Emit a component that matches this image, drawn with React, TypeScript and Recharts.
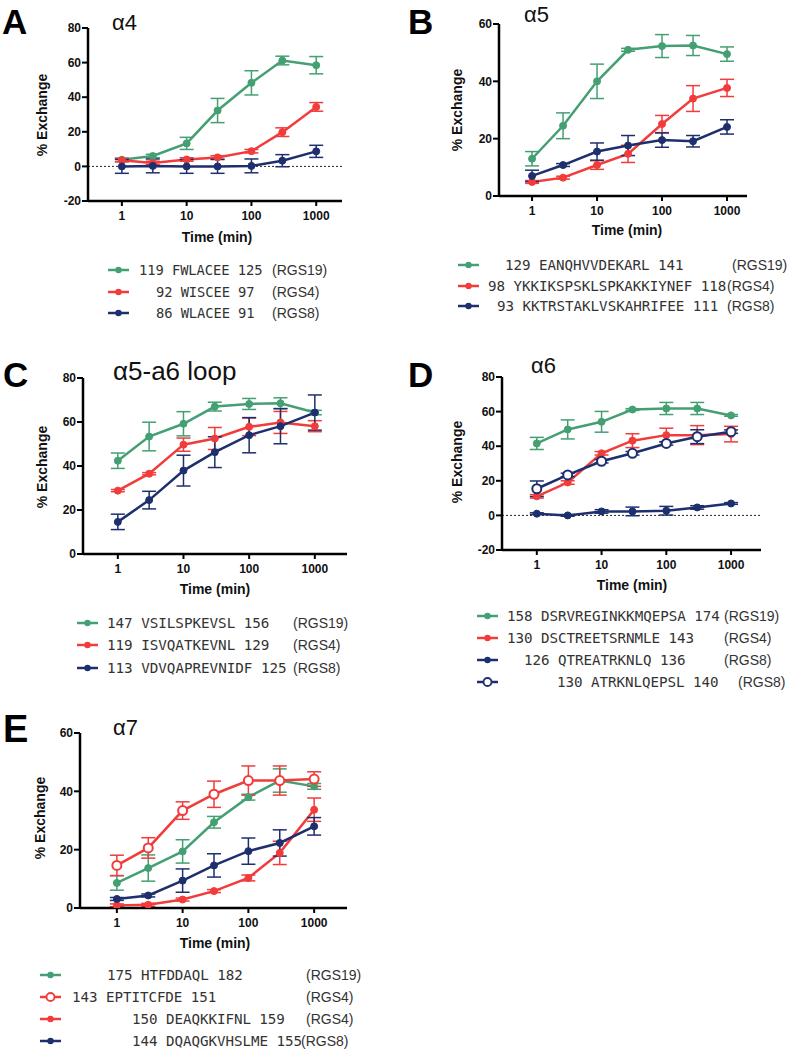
import React from 'react';
import { LineChart, Line, XAxis, YAxis, ErrorBar, ReferenceLine } from 'recharts';

const TIMES = [1, 3, 10, 30, 100, 300, 1000];
const X_TICKS = [1, 10, 100, 1000];

// Panel A – α4
const A_RGS19 = [3.8, 6, 13.3, 32.3, 48.3, 61.2, 58.5];
const A_RGS19_ERR = [1, 1, 3.5, 7, 7, 2.5, 5];
const A_RGS4 = [3.6, 2, 4, 5.2, 8.8, 19.8, 34.4];
const A_RGS4_ERR = [1, 1, 1, 1, 1, 2.5, 2.5];
const A_RGS8 = [0, 0.3, 0, 0, 0.3, 3.3, 8.7];
const A_RGS8_ERR = [4, 4, 4, 4, 4, 3.5, 3.5];

// Panel B – α5
const B_RGS19 = [13, 24.5, 40, 51, 52.3, 52.5, 49.5];
const B_RGS19_ERR = [2.5, 4.5, 6, 0.5, 4, 3.5, 2.5];
const B_RGS4 = [4.9, 6.4, 10.8, 14.7, 25.1, 34, 37.7];
const B_RGS4_ERR = [0.5, 0.5, 1.5, 3, 3, 4.5, 3];
const B_RGS8 = [7, 10.8, 15.5, 17.6, 19.5, 19.1, 24.1];
const B_RGS8_ERR = [2, 0.5, 3, 3.5, 2.5, 2, 2.5];

// Panel C – α5-a6 loop
const C_RGS19 = [42.4, 53.4, 59.2, 67, 68.2, 68.5, 64.3];
const C_RGS19_ERR = [3.5, 6.5, 5.5, 2, 2.5, 2.5, 1];
const C_RGS4 = [28.8, 36.5, 49.7, 52.5, 57.8, 59.8, 58.1];
const C_RGS4_ERR = [0.5, 0.5, 3, 5, 4, 5, 2.5];
const C_RGS8 = [14.6, 24.5, 37.9, 46.3, 54, 58.1, 64.3];
const C_RGS8_ERR = [3.5, 4, 7, 7, 8, 8, 8];

// Panel D – α6
const D_RGS19 = [41.6, 49.7, 54.1, 61.2, 61.8, 61.8, 57.8];
const D_RGS19_ERR = [3.5, 5.5, 6, 0.5, 3.5, 3.5, 0.5];
const D_RGS4 = [11, 19, 35.9, 43.2, 46.4, 46.4, 47];
const D_RGS4_ERR = [1, 1, 1, 4, 4, 5.5, 4.5];
const D_RGS8A = [1, 0, 2.3, 2.3, 2.7, 4.6, 6.9];
const D_RGS8A_ERR = [0.5, 0.5, 1, 2.5, 2.5, 1, 0.5];
const D_RGS8B = [15.4, 23.4, 31.3, 35.9, 41.6, 45.5, 48.4];
const D_RGS8B_ERR = [4.5, 1, 1, 1, 1, 4, 1];

// Panel E – α7
const E_RGS19 = [8.6, 13.7, 19.4, 29.4, 38, 43.7, 41.7];
const E_RGS19_ERR = [2.5, 4.5, 4, 2, 1, 4, 1];
const E_RGS4A = [14.6, 20.6, 33.4, 39, 43.7, 43.7, 44.2];
const E_RGS4A_ERR = [3.5, 3.5, 3, 4.5, 5, 5, 2.5];
const E_RGS4B = [0.9, 1.1, 2.9, 5.8, 10.3, 18.9, 33.7];
const E_RGS4B_ERR = [0.5, 0.5, 0.5, 0.5, 1, 4, 4];
const E_RGS8 = [3.1, 4.3, 9.4, 14.6, 19.5, 22.3, 28];
const E_RGS8_ERR = [0.5, 0.5, 4, 4, 4.5, 4.5, 3];

// Legend labels
const A_LABELS = ['119 FWLACEE 125', '92 WISCEE 97', '86 WLACEE 91'];
const B_LABELS = ['129 EANQHVVDEKARL 141', '98 YKKIKSPSKLSPKAKKIYNEF 118', '93 KKTRSTAKLVSKAHRIFEE 111'];
const C_LABELS = ['147 VSILSPKEVSL 156', '119 ISVQATKEVNL 129', '113 VDVQAPREVNIDF 125'];
const D_LABELS = ['158 DSRVREGINKKMQEPSA 174', '130 DSCTREETSRNMLE 143', '126 QTREATRKNLQ 136', '130 ATRKNLQEPSL 140'];
const E_LABELS = ['175 HTFDDAQL 182', '143 EPTITCFDE 151', '150 DEAQKKIFNL 159', '144 DQAQGKVHSLME 155'];
const A_TAGS = ['(RGS19)', '(RGS4)', '(RGS8)'];
const B_TAGS = ['(RGS19)', '(RGS4)', '(RGS8)'];
const C_TAGS = ['(RGS19)', '(RGS4)', '(RGS8)'];
const D_TAGS = ['(RGS19)', '(RGS4)', '(RGS8)', '(RGS8)'];
const E_TAGS = ['(RGS19)', '(RGS4)', '(RGS4)', '(RGS8)'];

const GREEN = '#44A073';
const RED = '#F23B3B';
const NAVY = '#1E2F6E';
const SANS = '"Liberation Sans", Arial, sans-serif';
const MONO = '"DejaVu Sans Mono", monospace';

type Series = { values: number[]; errs: number[]; color: string; open?: boolean };

type PanelCfg = {
  left: number; right: number; top: number; bottom: number;
  xDomain: [number, number]; yDomain: [number, number]; yTicks: number[];
  zeroLine?: boolean; series: Series[];
};

const PANELS: PanelCfg[] = [
  {
    left: 88, right: 342, top: 28, bottom: 201, xDomain: [0.3, 2500], yDomain: [-20, 80],
    yTicks: [-20, 0, 20, 40, 60, 80], zeroLine: true,
    series: [
      { values: A_RGS19, errs: A_RGS19_ERR, color: GREEN },
      { values: A_RGS4, errs: A_RGS4_ERR, color: RED },
      { values: A_RGS8, errs: A_RGS8_ERR, color: NAVY },
    ],
  },
  {
    left: 499, right: 747, top: 24, bottom: 196, xDomain: [0.31, 2030], yDomain: [0, 60],
    yTicks: [0, 20, 40, 60],
    series: [
      { values: B_RGS19, errs: B_RGS19_ERR, color: GREEN },
      { values: B_RGS4, errs: B_RGS4_ERR, color: RED },
      { values: B_RGS8, errs: B_RGS8_ERR, color: NAVY },
    ],
  },
  {
    left: 83, right: 347, top: 378, bottom: 554, xDomain: [0.295, 3090], yDomain: [0, 80],
    yTicks: [0, 20, 40, 60, 80],
    series: [
      { values: C_RGS19, errs: C_RGS19_ERR, color: GREEN },
      { values: C_RGS4, errs: C_RGS4_ERR, color: RED },
      { values: C_RGS8, errs: C_RGS8_ERR, color: NAVY },
    ],
  },
  {
    left: 502, right: 761, top: 377, bottom: 550, xDomain: [0.29, 2900], yDomain: [-20, 80],
    yTicks: [-20, 0, 20, 40, 60, 80], zeroLine: true,
    series: [
      { values: D_RGS19, errs: D_RGS19_ERR, color: GREEN },
      { values: D_RGS4, errs: D_RGS4_ERR, color: RED },
      { values: D_RGS8A, errs: D_RGS8A_ERR, color: NAVY },
      { values: D_RGS8B, errs: D_RGS8B_ERR, color: NAVY, open: true },
    ],
  },
  {
    left: 80, right: 347, top: 733, bottom: 908, xDomain: [0.275, 3160], yDomain: [0, 60],
    yTicks: [0, 20, 40, 60],
    series: [
      { values: E_RGS19, errs: E_RGS19_ERR, color: GREEN },
      { values: E_RGS4A, errs: E_RGS4A_ERR, color: RED, open: true },
      { values: E_RGS4B, errs: E_RGS4B_ERR, color: RED },
      { values: E_RGS8, errs: E_RGS8_ERR, color: NAVY },
    ],
  },
];

const PAD_L = 60; // margin.left 30 + yAxis width 30
const PAD_T = 10;
const PAD_R = 10;
const PAD_B = 50; // margin.bottom 20 + xAxis height 30

function Panel({ cfg }: { cfg: PanelCfg }) {
  const w = cfg.right - cfg.left + PAD_L + PAD_R;
  const h = cfg.bottom - cfg.top + PAD_T + PAD_B;
  const data = TIMES.map((t, i) => {
    const row: Record<string, number> = { x: t };
    cfg.series.forEach((s, k) => {
      row['s' + k] = s.values[i];
      row['e' + k] = s.errs[i];
    });
    return row;
  });
  const tickStyle = { fontSize: 12, fontWeight: 700, fill: '#111', fontFamily: SANS };
  return (
    <div style={{ position: 'absolute', left: cfg.left - PAD_L, top: cfg.top - PAD_T, width: w, height: h }}>
      <LineChart width={w} height={h} data={data} margin={{ top: PAD_T, right: PAD_R, left: 30, bottom: 20 }}>
        <XAxis
          dataKey="x" type="number" scale="log" domain={cfg.xDomain} ticks={X_TICKS} interval={0}
          allowDataOverflow height={30} tick={tickStyle} tickSize={5} tickMargin={5}
          axisLine={{ stroke: '#000', strokeWidth: 2.5 }} tickLine={{ stroke: '#000', strokeWidth: 2 }}
        />
        <YAxis
          type="number" domain={cfg.yDomain} ticks={cfg.yTicks} interval={0} width={30}
          allowDataOverflow tick={tickStyle} tickSize={6} tickMargin={1}
          axisLine={{ stroke: '#000', strokeWidth: 2.5 }} tickLine={{ stroke: '#000', strokeWidth: 2 }}
        />
        {cfg.zeroLine && (
          <ReferenceLine y={0} stroke="#222" strokeWidth={1} strokeDasharray="2 2" />
        )}
        {cfg.series.map((s, k) => (
          <Line
            key={k}
            dataKey={'s' + k}
            stroke={s.color}
            strokeWidth={2.5}
            isAnimationActive={false}
            dot={s.open
              ? { r: 4.5, fill: '#fff', stroke: s.color, strokeWidth: 2 }
              : { r: 3.5, fill: s.color, stroke: s.color, strokeWidth: 1 }}
            activeDot={false}
          >
            <ErrorBar dataKey={'e' + k} direction="y" width={7} stroke={s.color} strokeWidth={1.5} isAnimationActive={false} />
          </Line>
        ))}
      </LineChart>
    </div>
  );
}

type Legend = { labels: string[]; tags: string[]; colors: string[]; open: boolean[]; markX: number; seqX: number[]; tagX: number[]; ys: number[]; cw: number };

const LEGENDS: Legend[] = [
  { labels: A_LABELS, tags: A_TAGS, colors: [GREEN, RED, NAVY], open: [false, false, false], markX: 108, seqX: [139, 156, 156], tagX: [272, 272, 272], ys: [270, 292, 313], cw: 8.3 },
  { labels: B_LABELS, tags: B_TAGS, colors: [GREEN, RED, NAVY], open: [false, false, false], markX: 458, seqX: [505, 488, 497], tagX: [732, 727, 727], ys: [265, 286, 306], cw: 8.55 },
  { labels: C_LABELS, tags: C_TAGS, colors: [GREEN, RED, NAVY], open: [false, false, false], markX: 77, seqX: [107, 107, 107], tagX: [293, 293, 293], ys: [623, 645, 668], cw: 8.6 },
  { labels: D_LABELS, tags: D_TAGS, colors: [GREEN, RED, NAVY, NAVY], open: [false, false, false, true], markX: 477, seqX: [507, 507, 524, 557], tagX: [724, 724, 724, 738], ys: [616, 638, 660, 682], cw: 8.55 },
  { labels: E_LABELS, tags: E_TAGS, colors: [GREEN, RED, RED, NAVY], open: [false, true, false, false], markX: 40, seqX: [107, 72, 132, 132], tagX: [306, 306, 306, 301], ys: [975, 997, 1019, 1041], cw: 8.55 },
];

const LETTERS = [
  { t: 'A', x: 2, y: 34, s: 35 },
  { t: 'B', x: 408, y: 34, s: 35 },
  { t: 'C', x: 3, y: 387, s: 35 },
  { t: 'D', x: 408, y: 387, s: 35 },
  { t: 'E', x: 3, y: 742, s: 38 },
];
const TITLES = [
  { t: 'α4', x: 112, y: 30, s: 22 },
  { t: 'α5', x: 524, y: 22, s: 22 },
  { t: 'α5-a6 loop', x: 113, y: 380, s: 26 },
  { t: 'α6', x: 531, y: 373, s: 22 },
  { t: 'α7', x: 113, y: 735, s: 22 },
];
const XTITLES = [
  { x: 217, y: 242 }, { x: 627, y: 235 }, { x: 215, y: 594 }, { x: 632, y: 590 }, { x: 215, y: 948 },
];
const YTITLES = [
  { x: 42, y: 115 }, { x: 457, y: 110 }, { x: 42, y: 467 }, { x: 457, y: 462 }, { x: 40, y: 818 },
];

function Overlay() {
  return (
    <svg width={788} height={1050} style={{ position: 'absolute', left: 0, top: 0, pointerEvents: 'none' }}>
      {LETTERS.map((l, i) => (
        <text key={'l' + i} x={l.x} y={l.y} fontSize={l.s} fontWeight={700} fontFamily={SANS} fill="#000">{l.t}</text>
      ))}
      {TITLES.map((l, i) => (
        <text key={'t' + i} x={l.x} y={l.y} fontSize={l.s} fontFamily={SANS} fill="#111">{l.t}</text>
      ))}
      {XTITLES.map((l, i) => (
        <text key={'x' + i} x={l.x} y={l.y} fontSize={14} fontWeight={700} fontFamily={SANS} fill="#111" textAnchor="middle">Time (min)</text>
      ))}
      {YTITLES.map((l, i) => (
        <text key={'y' + i} x={l.x} y={l.y} fontSize={14} fontWeight={700} fontFamily={SANS} fill="#111" textAnchor="middle" dominantBaseline="central" transform={`rotate(-90 ${l.x} ${l.y})`}>% Exchange</text>
      ))}
      {LEGENDS.map((lg, i) => (
        <g key={'g' + i}>
          {lg.labels.map((lab, k) => (
            <g key={k}>
              <line x1={lg.markX} x2={lg.markX + 21} y1={lg.ys[k]} y2={lg.ys[k]} stroke={lg.colors[k]} strokeWidth={2.5} />
              {lg.open[k]
                ? <circle cx={lg.markX + 10.5} cy={lg.ys[k]} r={4} fill="#fff" stroke={lg.colors[k]} strokeWidth={1.8} />
                : <circle cx={lg.markX + 10.5} cy={lg.ys[k]} r={3.2} fill={lg.colors[k]} />}
              <text x={lg.seqX[k]} y={lg.ys[k] + 5} fontSize={lg.cw / 0.602} fontFamily={MONO} fill="#333"
                textLength={lab.length * lg.cw - 1} lengthAdjust="spacing">{lab}</text>
              <text x={lg.tagX[k]} y={lg.ys[k] + 5} fontSize={14} fontFamily={SANS} fill="#333">{lg.tags[k]}</text>
            </g>
          ))}
        </g>
      ))}
    </svg>
  );
}

export default function App() {
  return (
    <div style={{ position: 'absolute', left: 0, top: 0, width: 788, height: 1050, background: '#fff' }}>
      {PANELS.map((p, i) => <Panel key={i} cfg={p} />)}
      <Overlay />
    </div>
  );
}
